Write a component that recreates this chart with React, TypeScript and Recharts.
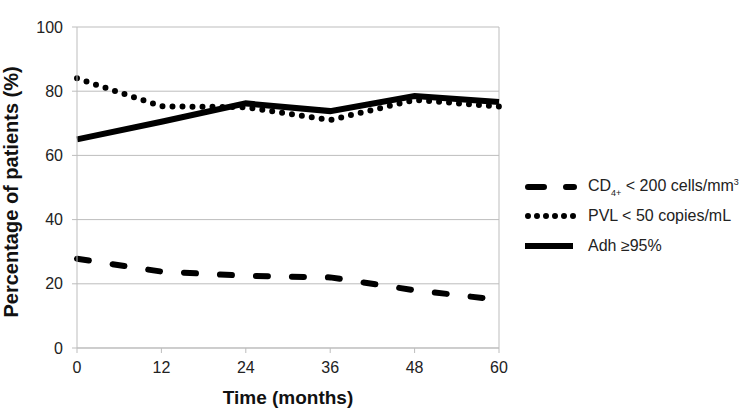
import React from "react";
import {
  CartesianGrid,
  Line,
  LineChart,
  ReferenceLine,
  XAxis,
  YAxis,
} from "recharts";

const months = [0, 12, 24, 36, 48, 60];
const cd4Low = [27.8, 23.8, 22.5, 22, 18, 15];
const pvlLow = [84, 75.3, 75, 71, 77.3, 75.2];
const adherence = [65, 70.5, 76.2, 73.8, 78.5, 76.6];
const yTicks = [0, 20, 40, 60, 80, 100];

const data = months.map((m, i) => ({
  month: m,
  cd4: cd4Low[i],
  pvl: pvlLow[i],
  adh: adherence[i],
}));

const FONT = "'Liberation Sans', Arial, sans-serif";
const GRID = "#bdbdbd";

const legendRows = [
  {
    key: "cd4",
    dash: "16 22",
    h: 30,
    label: (
      <>
        CD<sub style={{ fontSize: 9 }}>4+</sub> &lt; 200 cells/mm
        <sup style={{ fontSize: 9 }}>3</sup>
      </>
    ),
  },
  { key: "pvl", dash: "0 9", h: 28, label: <>PVL &lt; 50 copies/mL</> },
  { key: "adh", dash: undefined, h: 32, label: <>Adh ≥95%</> },
];

// legend sits beside the plot, outside the chart's layout
const ChartLegend = () => (
  <div
    style={{
      position: "absolute",
      left: 522,
      top: 172,
      fontFamily: FONT,
      fontSize: 16,
      color: "#222",
    }}
  >
    {legendRows.map((row) => (
      <div
        key={row.key}
        style={{ display: "flex", alignItems: "center", height: row.h }}
      >
        <svg width={56} height={10} style={{ marginRight: 10 }}>
          <line
            x1={row.dash ? 6 : 3}
            y1={5}
            x2={row.dash ? 52 : 51}
            y2={5}
            stroke="#000"
            strokeWidth={6}
            strokeLinecap={row.dash ? "round" : "butt"}
            strokeDasharray={row.dash}
          />
        </svg>
        <span>{row.label}</span>
      </div>
    ))}
  </div>
);

export default function App() {
  return (
    <div
      style={{
        position: "absolute",
        left: 0,
        top: 0,
        width: 746,
        height: 409,
        background: "#fff",
      }}
    >
      <LineChart
        width={746}
        height={409}
        data={data}
        margin={{ top: 27, right: 247, left: 37, bottom: 31 }}
      >
        <CartesianGrid vertical={false} stroke={GRID} />
        <ReferenceLine x={60} stroke={GRID} />
        <XAxis
          dataKey="month"
          type="number"
          domain={[0, 60]}
          ticks={months}
          height={30}
          stroke={GRID}
          tickSize={5}
          tickMargin={9}
          tick={{ fill: "#222", fontSize: 16, fontFamily: FONT }}
          label={{
            value: "Time (months)",
            position: "insideBottom",
            offset: -26,
            style: { fontSize: 19, fontWeight: "bold", fill: "#111", fontFamily: FONT },
          }}
        />
        <YAxis
          domain={[0, 100]}
          ticks={yTicks}
          width={40}
          stroke={GRID}
          tickSize={5}
          tickMargin={9}
          tick={{ fill: "#222", fontSize: 16, fontFamily: FONT }}
          label={{
            value: "Percentage of patients (%)",
            angle: -90,
            position: "insideLeft",
            offset: -26,
            dy: 130,
            style: { fontSize: 20, fontWeight: "bold", fill: "#111", fontFamily: FONT },
          }}
        />
        <Line
          dataKey="cd4"
          stroke="#000"
          strokeWidth={6}
          strokeLinecap="round"
          strokeDasharray="12 24"
          dot={false}
          isAnimationActive={false}
          type="linear"
        />
        <Line
          dataKey="pvl"
          stroke="#000"
          strokeWidth={6}
          strokeLinecap="round"
          strokeDasharray="0 10"
          dot={false}
          isAnimationActive={false}
          type="linear"
        />
        <Line
          dataKey="adh"
          stroke="#000"
          strokeWidth={6}
          dot={false}
          isAnimationActive={false}
          type="linear"
        />
      </LineChart>
      <ChartLegend />
    </div>
  );
}
